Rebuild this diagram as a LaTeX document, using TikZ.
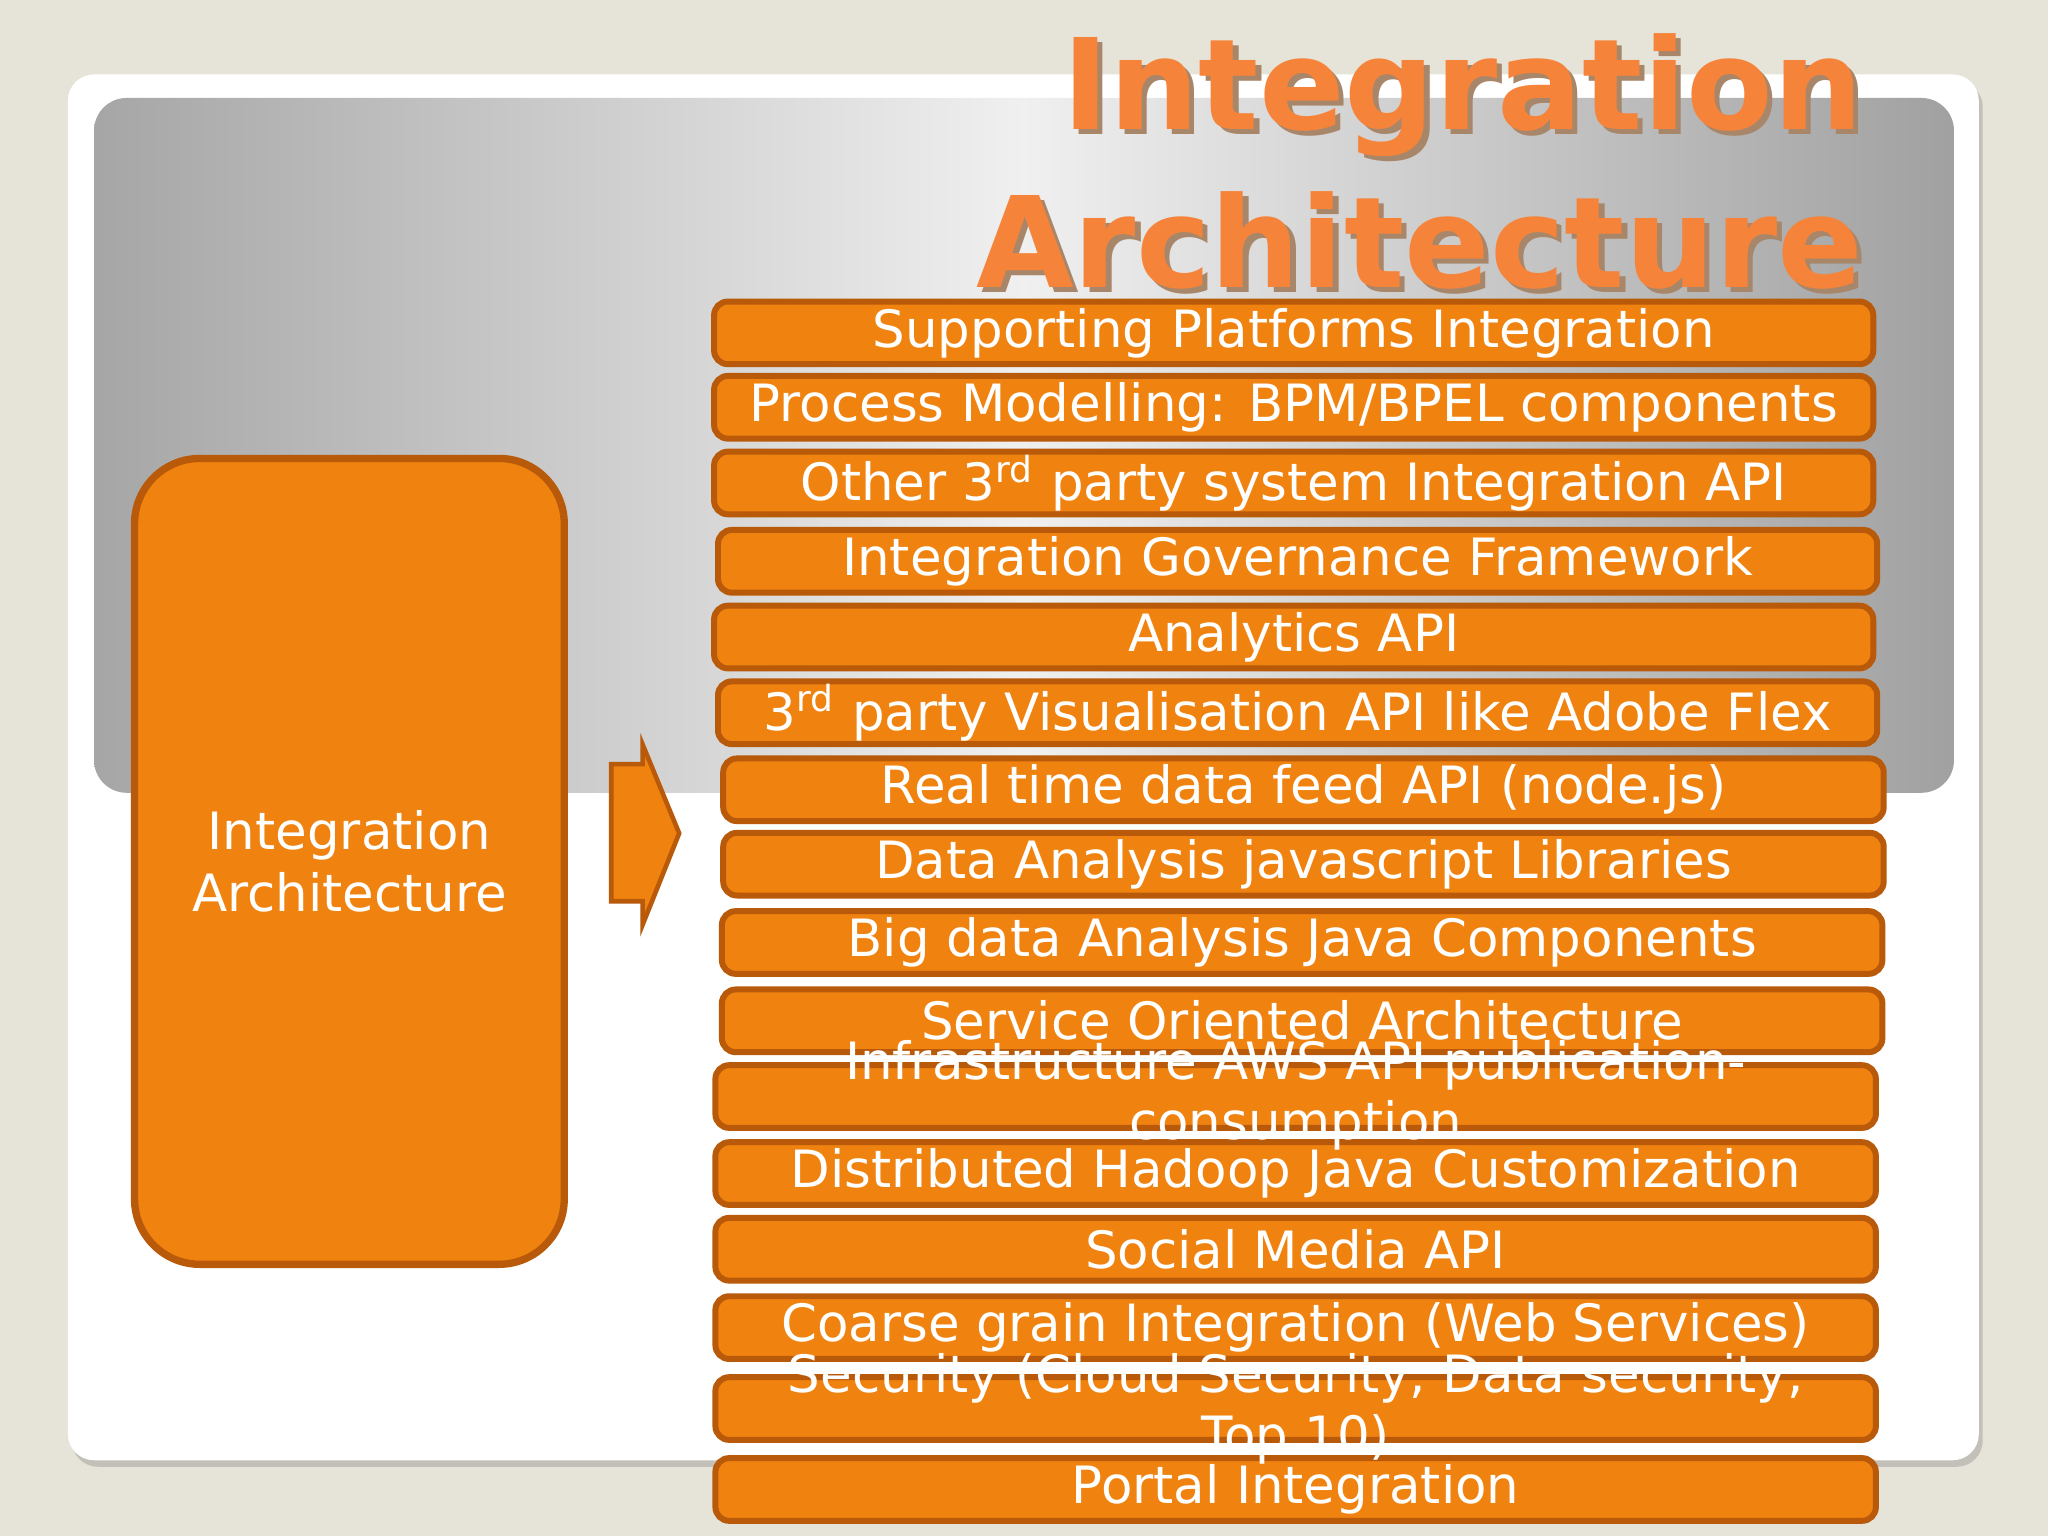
\documentclass[tikz,border=0pt]{standalone}
\usepackage{fontspec}
\setmainfont{DejaVu Sans}
\usetikzlibrary{shadows}
\definecolor{org}{HTML}{F0820F}
\definecolor{orgd}{HTML}{B85A0A}
\definecolor{ttl}{HTML}{F5843A}
\definecolor{bgc}{HTML}{E6E3D9}
\tikzset{
 bar/.style={draw=orgd,line width=1.3pt,fill=org,rounded corners=3pt,minimum height=0.48cm,inner sep=0pt,text=white,font=\fontsize{10.6}{13}\selectfont,align=center},
}
\newcommand{\bartext}[4]{\node[bar,minimum width=#2*0.01cm-0.04cm] (#4) at ({(#1+#2/2)*0.01},{-#3*0.01}) {};}
\begin{document}
\begin{tikzpicture}
\useasboundingbox (0,0) rectangle (15.68,-11.76);
\fill[bgc] (0,0) rectangle (15.68,-11.76);
\fill[white,rounded corners=0.2cm,drop shadow={opacity=0.35,shadow xshift=0.03cm,shadow yshift=-0.05cm}] (0.52,-0.57) rectangle (15.15,-11.18);
\shade[rounded corners=0.25cm,left color=black!35,right color=black!37,middle color=black!6] (0.72,-0.75) rectangle (14.96,-6.07);
% title
\foreach \dx/\c in {0.04/orgd!60!black!60, 0/ttl}{
\node[font=\bfseries\fontsize{27.5}{33}\selectfont,text=\c,align=right,anchor=north east,inner sep=0pt] (title\dx) at (14.27+\dx,-0.25-\dx) {Integration\\[0.05cm]Architecture};}
% big box
\node[draw=orgd,line width=1.6pt,fill=org,rounded corners=0.5cm,minimum width=3.29cm,minimum height=6.17cm,text=white,font=\fontsize{11.2}{13.5}\selectfont,align=center] (main) at (2.675,-6.595) {Integration\\Architecture};
\draw[draw=orgd,line width=1pt,fill=org] (4.68,-5.85)--(4.92,-5.85)--(4.92,-5.70)--(5.20,-6.38)--(4.92,-7.08)--(4.92,-6.90)--(4.68,-6.90)--cycle;
\bartext{545}{892}{255}{b1}
\bartext{545}{892}{312}{b2}
\bartext{545}{892}{370}{b3}
\bartext{548}{892}{430}{b4}
\bartext{545}{892}{488}{b5}
\bartext{548}{892}{546}{b6}
\bartext{552}{893}{605}{b7}
\bartext{552}{893}{662}{b8}
\bartext{551}{893}{722}{b9}
\bartext{551}{893}{782}{b10}
\bartext{546}{893}{840}{b11}
\bartext{546}{893}{899}{b12}
\bartext{546}{893}{957}{b13}
\bartext{546}{893}{1017}{b14}
\bartext{546}{893}{1079}{b15}
\bartext{546}{893}{1141}{b16}
\tikzset{lbl/.style={text=white,font=\fontsize{11.2}{13.2}\selectfont,align=center,inner sep=0pt}}
\node[lbl] at (b1) {Supporting Platforms Integration};
\node[lbl] at (b2) {Process Modelling: BPM/BPEL components};
\node[lbl] at (b3) {Other 3\textsuperscript{rd} party system Integration API};
\node[lbl] at (b4) {Integration Governance Framework};
\node[lbl] at (b5) {Analytics API};
\node[lbl] at (b6) {3\textsuperscript{rd} party Visualisation API like Adobe Flex};
\node[lbl] at (b7) {Real time data feed API (node.js)};
\node[lbl] at (b8) {Data Analysis javascript Libraries};
\node[lbl] at (b9) {Big data Analysis Java Components};
\node[lbl] at (b10) {Service Oriented Architecture};
\node[lbl] at ([yshift=0.01cm]b11) {Infrastructure AWS API publication-\\consumption};
\node[lbl] at (b12) {Distributed Hadoop Java Customization};
\node[lbl] at (b13) {Social Media API};
\node[lbl] at (b14) {Coarse grain Integration (Web Services)};
\node[lbl] at (b15) {Security (Cloud Security, Data security,\\Top 10)};
\node[lbl] at (b16) {Portal Integration};
\end{tikzpicture}
\end{document}
